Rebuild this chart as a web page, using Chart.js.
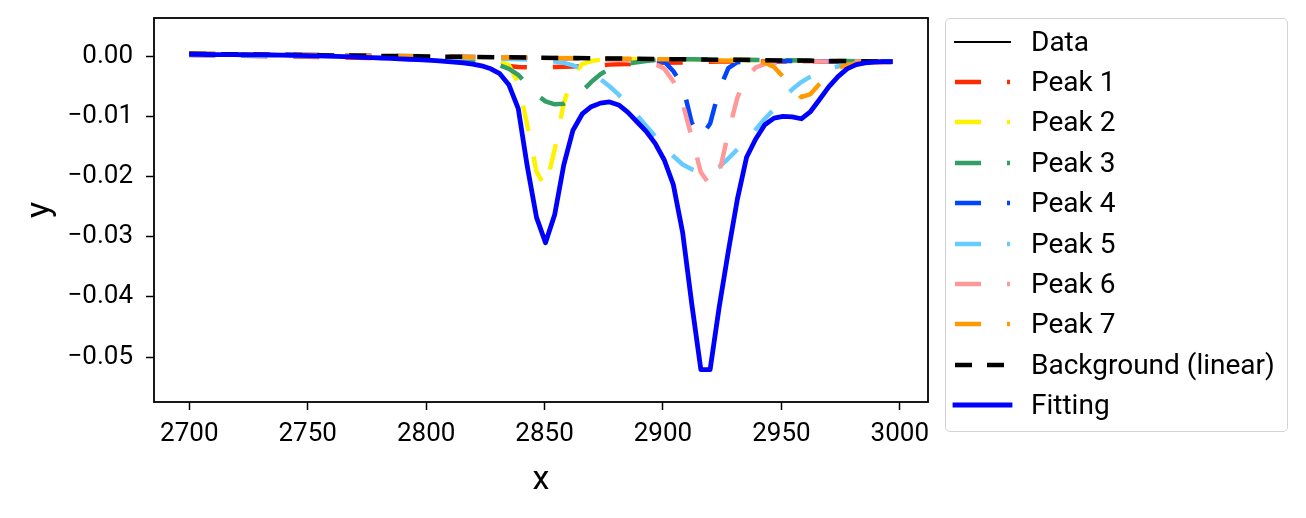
<!DOCTYPE html>
<html>
<head>
<meta charset="utf-8">
<script src="https://cdn.jsdelivr.net/npm/chart.js@4.4.1/dist/chart.umd.min.js"></script>
<style>
html, body { margin: 0; padding: 0; background: #fff; }
#wrap { position: relative; width: 1306px; height: 518px; }
#c { position: absolute; left: 0; top: 0; }
#legend { position: absolute; left: 945px; top: 18px; width: 343px; height: 414px;
  border: 1.5px solid #d3d3d3; border-radius: 5px; box-sizing: border-box; background: rgba(255,255,255,0.8); }
.lab { position: absolute; left: 1031px; height: 32px; line-height: 32px;
  font-family: Roboto, sans-serif; font-size: 28px; color: #000; white-space: nowrap; }
.smp { position: absolute; left: 948px; }
</style>
</head>
<body>
<div id="wrap">
  <canvas id="c" width="1306" height="518"></canvas>
  <div id="legend"></div>
</div>
<script>
// shared x grid of the measured spectrum
var xGrid = [2700.0, 2703.9, 2707.7, 2711.6, 2715.4, 2719.3, 2723.1, 2727.0, 2730.9, 2734.7,
  2738.6, 2742.4, 2746.3, 2750.1, 2754.0, 2757.9, 2761.7, 2765.6, 2769.4, 2773.3,
  2777.1, 2781.0, 2784.9, 2788.7, 2792.6, 2796.4, 2800.3, 2804.1, 2808.0, 2811.9,
  2815.7, 2819.6, 2823.4, 2827.3, 2831.1, 2835.0, 2838.9, 2842.7, 2846.6, 2850.4,
  2854.3, 2858.1, 2862.0, 2865.9, 2869.7, 2873.6, 2877.4, 2881.3, 2885.1, 2889.0,
  2892.9, 2896.7, 2900.6, 2904.4, 2908.3, 2912.1, 2916.0, 2919.9, 2923.7, 2927.6,
  2931.4, 2935.3, 2939.1, 2943.0, 2946.9, 2950.7, 2954.6, 2958.4, 2962.3, 2966.1,
  2970.0, 2973.9, 2977.7, 2981.6, 2985.4, 2989.3, 2993.1, 2997.0];

var dataY = [0.0007, 0.0004, 0.00028, 0.00027, 0.00026, 0.00025, 0.00024, 0.00023, 0.00022, 0.0002,
  0.00018, 0.00016, 0.00013, 0.0001, 0.00006, 0.00002, -0.00002, -0.00007, -0.00012, -0.00018,
  -0.00024, -0.0003, -0.00037, -0.00044, -0.00051, -0.00058, -0.00066, -0.00075, -0.00085, -0.00097,
  -0.0011, -0.0013, -0.0016, -0.0021, -0.0029, -0.0048, -0.0087, -0.0183, -0.0268, -0.0310,
  -0.0263, -0.0181, -0.0123, -0.0096, -0.0084, -0.0078, -0.0076, -0.0081, -0.0093, -0.0109,
  -0.0125, -0.0145, -0.0173, -0.0214, -0.0293, -0.0410, -0.0521, -0.0521, -0.0418, -0.0324,
  -0.0238, -0.0168, -0.0138, -0.0114, -0.0103, -0.0100, -0.0101, -0.0104, -0.0092, -0.0072,
  -0.0051, -0.0034, -0.0021, -0.0014, -0.0011, -0.0010, -0.0009, -0.0009];

var fitY = [0.0003, 0.00029, 0.00028, 0.00027, 0.00026, 0.00025, 0.00024, 0.00023, 0.00022, 0.0002,
  0.00018, 0.00016, 0.00013, 0.0001, 0.00006, 0.00002, -0.00002, -0.00007, -0.00012, -0.00018,
  -0.00024, -0.0003, -0.00037, -0.00044, -0.00051, -0.00058, -0.00066, -0.00075, -0.00085, -0.00097,
  -0.0011, -0.0013, -0.0016, -0.0021, -0.0029, -0.0048, -0.0087, -0.0183, -0.0268, -0.0310,
  -0.0263, -0.0181, -0.0123, -0.0096, -0.0084, -0.0078, -0.0076, -0.0081, -0.0093, -0.0109,
  -0.0125, -0.0145, -0.0173, -0.0214, -0.0293, -0.0410, -0.0521, -0.0521, -0.0418, -0.0324,
  -0.0238, -0.0168, -0.0138, -0.0114, -0.0103, -0.0100, -0.0101, -0.0104, -0.0092, -0.0072,
  -0.0051, -0.0034, -0.0021, -0.0014, -0.0011, -0.0010, -0.0009, -0.0009];

var peak1X = [2700, 2750, 2780, 2800, 2815.7, 2823.4, 2831.1, 2838.9, 2846.6, 2854.3, 2862.0,
  2869.7, 2877.4, 2885.1, 2892.9, 2900.6, 2912.1, 2923.7, 2935.3, 2950.7, 2970.0, 2997.0];
var peak1Y = [0.0002, -0.0001, -0.0003, -0.0005, -0.0008, -0.0011, -0.0015, -0.0018, -0.0019, -0.0018, -0.0017,
  -0.0016, -0.0014, -0.0013, -0.0012, -0.0011, -0.0010, -0.0009, -0.0009, -0.0009, -0.0009, -0.0010];

var peak2X = [2700, 2780, 2815.7, 2823.4, 2827.3, 2831.1, 2835.0, 2838.9, 2842.7, 2846.6, 2850.4,
  2854.3, 2858.1, 2862.0, 2865.9, 2869.7, 2873.6, 2881.3, 2900.6, 2950.7, 2997.0];
var peak2Y = [0.0004, 0.0001, -0.0002, -0.0003, -0.0005, -0.0008, -0.0015, -0.0045, -0.0115, -0.0192, -0.0218,
  -0.0155, -0.0078, -0.0032, -0.0013, -0.0008, -0.0006, -0.0005, -0.0005, -0.0007, -0.0009];

var peak3X = [2700, 2780, 2808.0, 2815.7, 2823.4, 2827.3, 2831.1, 2835.0, 2838.9, 2842.7, 2846.6, 2850.4,
  2854.3, 2858.1, 2862.0, 2865.9, 2869.7, 2873.6, 2877.4, 2881.3, 2885.1, 2892.9, 2900.6, 2912.1, 2935.3, 2997.0];
var peak3Y = [0.0003, 0.0000, -0.0004, -0.0006, -0.0008, -0.0011, -0.0015, -0.0021, -0.0031, -0.0047, -0.0064, -0.0075,
  -0.0080, -0.0079, -0.0071, -0.0058, -0.0043, -0.0030, -0.0021, -0.0015, -0.0012, -0.0008, -0.0005, -0.0005, -0.0006, -0.0009];

var peak4X = [2700, 2800, 2850.4, 2881.3, 2892.9, 2896.7, 2900.6, 2904.4, 2908.3, 2912.1, 2916.0,
  2919.9, 2923.7, 2927.6, 2931.4, 2939.1, 2950.7, 2997.0];
var peak4Y = [0.0004, 0.0000, -0.0003, -0.0005, -0.0006, -0.0007, -0.0009, -0.0025, -0.0048, -0.0110, -0.0135,
  -0.0112, -0.0056, -0.0020, -0.0010, -0.0008, -0.0008, -0.0009];

var peak5X = [2700, 2780, 2820, 2846.6, 2854.3, 2858.1, 2862.0, 2865.9, 2869.7, 2873.6,
  2877.4, 2881.3, 2885.1, 2889.0, 2892.9, 2896.7, 2900.6, 2904.4, 2908.3, 2912.1,
  2916.0, 2919.9, 2923.7, 2927.6, 2931.4, 2935.3, 2939.1, 2943.0, 2946.9, 2950.7,
  2954.6, 2958.4, 2962.3, 2966.1, 2970.0, 2973.9, 2977.7, 2985.4, 2997.0];
var peak5Y = [0.0002, -0.0001, -0.0003, -0.0006, -0.0009, -0.0011, -0.0015, -0.0021, -0.0029, -0.0038,
  -0.0050, -0.0064, -0.0080, -0.0098, -0.0116, -0.0133, -0.0150, -0.0166, -0.0180, -0.0188,
  -0.0192, -0.0191, -0.0184, -0.0170, -0.0155, -0.0142, -0.0122, -0.0104, -0.0088, -0.0070,
  -0.0055, -0.0043, -0.0034, -0.0027, -0.0021, -0.0017, -0.0014, -0.0011, -0.0010];

var peak6X = [2700, 2800, 2850.4, 2877.4, 2885.1, 2892.9, 2896.7, 2900.6, 2904.4, 2908.3, 2912.1, 2916.0,
  2919.9, 2923.7, 2927.6, 2931.4, 2935.3, 2939.1, 2943.0, 2946.9, 2954.6, 2970.0, 2997.0];
var peak6Y = [0.0004, 0.0000, -0.0003, -0.0005, -0.0007, -0.0009, -0.0013, -0.0021, -0.0042, -0.0078, -0.0134, -0.0193,
  -0.0215, -0.0195, -0.0127, -0.0069, -0.0034, -0.0019, -0.0013, -0.0011, -0.0009, -0.0009, -0.0009];

var peak7X = [2700, 2850.4, 2900.6, 2923.7, 2935.3, 2939.1, 2943.0, 2946.9, 2950.7, 2954.6, 2958.4,
  2962.3, 2966.1, 2970.0, 2973.9, 2977.7, 2981.6, 2989.3, 2997.0];
var peak7Y = [0.0004, -0.0003, -0.0005, -0.0007, -0.0008, -0.0009, -0.0011, -0.0018, -0.0034, -0.0052, -0.0068,
  -0.0063, -0.0046, -0.0031, -0.0020, -0.0014, -0.0012, -0.0010, -0.0009];

var bgX = [2700, 2997.0];
var bgY = [0.0004, -0.0009];

var xTicks = [2700, 2750, 2800, 2850, 2900, 2950, 3000];
var yTicks = [0, -0.01, -0.02, -0.03, -0.04, -0.05];

function pts(xs, ys) {
  return xs.map(function(x, i) { return {x: x, y: ys[i]}; });
}

var peakDash = [26, 26];
var sets = [
  {label: 'Data', data: pts(xGrid, dataY), borderColor: '#000000', borderWidth: 2, borderDash: []},
  {label: 'Peak 1', data: pts(peak1X, peak1Y), borderColor: '#ff2a00', borderWidth: 4.5, borderDash: peakDash},
  {label: 'Peak 2', data: pts(peak2X, peak2Y), borderColor: '#fff200', borderWidth: 4.5, borderDash: peakDash},
  {label: 'Peak 3', data: pts(peak3X, peak3Y), borderColor: '#339e66', borderWidth: 4.5, borderDash: peakDash},
  {label: 'Peak 4', data: pts(peak4X, peak4Y), borderColor: '#0044ff', borderWidth: 4.5, borderDash: peakDash},
  {label: 'Peak 5', data: pts(peak5X, peak5Y), borderColor: '#66ccff', borderWidth: 4.5, borderDash: peakDash},
  {label: 'Peak 6', data: pts(peak6X, peak6Y), borderColor: '#ff9999', borderWidth: 4.5, borderDash: peakDash},
  {label: 'Peak 7', data: pts(peak7X, peak7Y), borderColor: '#ff9900', borderWidth: 4.5, borderDash: peakDash},
  {label: 'Background (linear)', data: pts(bgX, bgY), borderColor: '#000000', borderWidth: 4.5, borderDash: [17, 15]},
  {label: 'Fitting', data: pts(xGrid, fitY), borderColor: '#0000ff', borderWidth: 4.8, borderDash: []}
];
sets.forEach(function(s, i) {
  s.order = sets.length - i;
  s.pointRadius = 0;
  s.fill = false;
  s.tension = 0;
  s.borderJoinStyle = 'round';
});

var frame = {
  id: 'frame',
  afterDatasetsDraw: function(chart) {
    var a = chart.chartArea, ctx = chart.ctx;
    ctx.save();
    ctx.strokeStyle = '#000';
    ctx.lineWidth = 1.8;
    ctx.strokeRect(a.left, a.top, a.right - a.left, a.bottom - a.top);
    ctx.restore();
  }
};

var tickFont = {family: 'Roboto', size: 26};

var chart = new Chart(document.getElementById('c'), {
  type: 'line',
  data: {datasets: sets},
  plugins: [frame],
  options: {
    responsive: false,
    animation: false,
    devicePixelRatio: 1,
    layout: {padding: {left: 0, top: 18, right: 378, bottom: 0}},
    plugins: {legend: {display: false}, tooltip: {enabled: false}},
    scales: {
      x: {
        type: 'linear', min: 2685.1, max: 3011.9,
        afterBuildTicks: function(s) { s.ticks = xTicks.map(function(v) { return {value: v}; }); },
        afterFit: function(s) { s.height = 116; s.paddingLeft = 0; s.paddingRight = 0; },
        grid: {display: true, drawOnChartArea: false, drawTicks: true, tickLength: 8, tickColor: '#000', tickWidth: 1.5},
        border: {display: false},
        ticks: {color: '#000', font: tickFont, padding: 9, maxRotation: 0, autoSkip: false,
          callback: function(v) { return String(v); }},
        title: {display: true, text: 'x', color: '#000', font: {family: 'Roboto', size: 34}, padding: {top: 0, bottom: 17}}
      },
      y: {
        type: 'linear', min: -0.05748, max: 0.00635,
        afterBuildTicks: function(s) { s.ticks = yTicks.map(function(v) { return {value: v}; }); },
        afterFit: function(s) { s.width = 154; s.paddingTop = 0; s.paddingBottom = 0; },
        grid: {display: true, drawOnChartArea: false, drawTicks: true, tickLength: 8, tickColor: '#000', tickWidth: 1.5},
        border: {display: false},
        ticks: {color: '#000', font: tickFont, padding: 13, autoSkip: false,
          callback: function(v) { return (v < -1e-9 ? '\u2212' : '') + Math.abs(v).toFixed(2); }},
        title: {display: true, text: 'y', color: '#000', font: {family: 'Roboto', size: 34}, padding: {top: 20, bottom: 0}}
      }
    }
  }
});

// legend, built from the datasets
var wrap = document.getElementById('wrap');
sets.forEach(function(s, i) {
  var cy = 41.7 + i * 40.37;
  var c = document.createElement('canvas');
  c.width = 70; c.height = 20;
  c.className = 'smp';
  c.style.top = (cy - 10) + 'px';
  wrap.appendChild(c);
  var g = c.getContext('2d');
  g.strokeStyle = s.borderColor;
  g.lineWidth = s.borderWidth;
  g.setLineDash(s.borderDash);
  g.lineCap = s.borderDash.length ? 'butt' : 'square';
  g.beginPath();
  g.moveTo(7, 10);
  g.lineTo(62, 10);
  g.stroke();
  var t = document.createElement('div');
  t.className = 'lab';
  t.style.top = (cy - 16) + 'px';
  t.textContent = s.label;
  wrap.appendChild(t);
});
</script>
</body>
</html>
